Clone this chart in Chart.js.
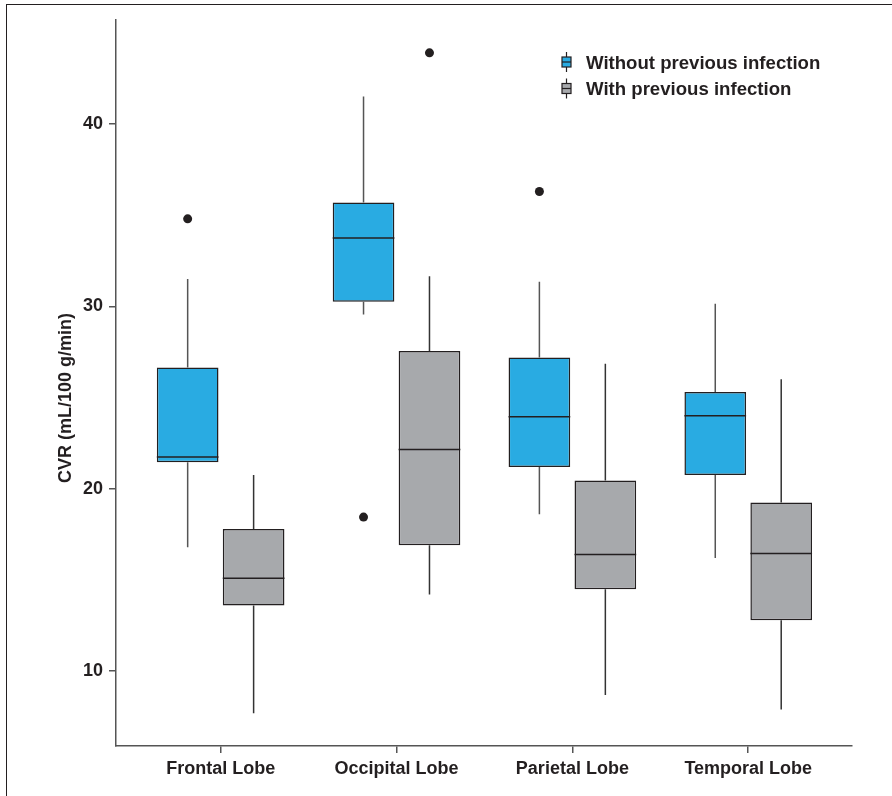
<!DOCTYPE html>
<html>
<head>
<meta charset="utf-8">
<script src="https://cdn.jsdelivr.net/npm/chart.js@4.4.1/dist/chart.umd.min.js"></script>
<style>
  html, body { margin: 0; padding: 0; background: #fff; }
  #wrap { position: relative; width: 892px; height: 796px; }
  #frame { position: absolute; left: 6px; top: 4px; right: 0; bottom: 0;
           border-top: 1.5px solid #231f20; border-left: 1.5px solid #231f20; pointer-events: none; }
</style>
</head>
<body>
<div id="wrap">
  <canvas id="chart" width="892" height="796"></canvas>
  <div id="frame"></div>
</div>
<script>
// categories and tick labels
const lobes = ['Frontal Lobe', 'Occipital Lobe', 'Parietal Lobe', 'Temporal Lobe'];
const yTicks = [10, 20, 30, 40];
const yTitle = 'CVR (mL/100 g/min)';

// without previous infection (blue)
const blueLow    = [16.8, 29.55, 18.6, 16.2];
const blueQ1     = [21.45, 30.25, 21.2, 20.75];
const blueMedian = [21.75, 33.75, 23.95, 24.0];
const blueQ3     = [26.65, 35.7, 27.2, 25.3];
const blueHigh   = [31.5, 41.5, 31.35, 30.15];
const blueOut    = [[34.8], [18.45], [36.3], []];

// with previous infection (gray)
const grayLow    = [7.7, 14.2, 8.7, 7.9];
const grayQ1     = [13.6, 16.9, 14.5, 12.8];
const grayMedian = [15.1, 22.15, 16.4, 16.45];
const grayQ3     = [17.8, 27.55, 20.45, 19.25];
const grayHigh   = [20.75, 31.65, 26.85, 26.0];
const grayOut    = [[], [43.9], [], []];

const groups = [
  { label: 'Without previous infection', color: '#29abe2', whisker: '#555', low: blueLow, q1: blueQ1, med: blueMedian, q3: blueQ3, high: blueHigh, out: blueOut },
  { label: 'With previous infection', color: '#a7a9ac', whisker: '#333', low: grayLow, q1: grayQ1, med: grayMedian, q3: grayQ3, high: grayHigh, out: grayOut }
];

const ink = '#231f20';
const font = { family: "'Liberation Sans', Arial, sans-serif", size: 18, weight: 'bold' };
const fontStr = "bold 18px 'Liberation Sans', Arial, sans-serif";
const legendFont = "bold 18.6px 'Liberation Sans', Arial, sans-serif";

const boxPlugin = {
  id: 'boxes',
  afterDatasetsDraw(chart) {
    const ctx = chart.ctx, y = chart.scales.y;
    groups.forEach((g, i) => {
      chart.getDatasetMeta(i).data.forEach((bar, j) => {
        const x = bar.x, half = bar.width / 2;
        ctx.save();
        ctx.strokeStyle = g.whisker;
        ctx.lineWidth = 1.5;
        ctx.beginPath();
        ctx.moveTo(x, y.getPixelForValue(g.high[j]));
        ctx.lineTo(x, y.getPixelForValue(g.q3[j]));
        ctx.moveTo(x, y.getPixelForValue(g.q1[j]));
        ctx.lineTo(x, y.getPixelForValue(g.low[j]));
        ctx.stroke();
        ctx.strokeStyle = ink;
        ctx.beginPath();
        const ym = y.getPixelForValue(g.med[j]);
        ctx.moveTo(x - half, ym);
        ctx.lineTo(x + half, ym);
        ctx.stroke();
        ctx.fillStyle = ink;
        g.out[j].forEach(v => {
          ctx.beginPath();
          ctx.arc(x, y.getPixelForValue(v), 4.5, 0, Math.PI * 2);
          ctx.fill();
        });
        ctx.restore();
      });
    });
  },
  afterDraw(chart) {
    const ctx = chart.ctx;
    ctx.save();
    // legend
    groups.forEach((g, k) => {
      const cy = 62 + 26.5 * k, cx = 566.5;
      ctx.strokeStyle = ink;
      ctx.lineWidth = 1.2;
      ctx.beginPath();
      ctx.moveTo(cx, cy - 10); ctx.lineTo(cx, cy + 10);
      ctx.stroke();
      ctx.fillStyle = g.color;
      ctx.fillRect(cx - 4.5, cy - 5, 9, 10);
      ctx.strokeRect(cx - 4.5, cy - 5, 9, 10);
      ctx.beginPath();
      ctx.moveTo(cx - 4.5, cy); ctx.lineTo(cx + 4.5, cy);
      ctx.stroke();
      ctx.fillStyle = ink;
      ctx.font = legendFont;
      ctx.textAlign = 'left';
      ctx.textBaseline = 'alphabetic';
      ctx.fillText(g.label, 586, cy + 6.5);
    });
    // y axis title
    ctx.translate(66, 398);
    ctx.rotate(-Math.PI / 2);
    ctx.textAlign = 'center';
    ctx.textBaseline = 'middle';
    ctx.fillStyle = ink;
    ctx.font = fontStr;
    ctx.fillText(yTitle, 0, 0);
    ctx.restore();
  }
};

const axisGrid = { display: true, drawOnChartArea: false, drawTicks: true, tickLength: 7, color: '#555', lineWidth: 1.5, offset: false };
const axisBorder = { display: true, color: '#555', width: 1.5 };

new Chart(document.getElementById('chart').getContext('2d'), {
  type: 'bar',
  data: {
    datasets: groups.map(g => ({
      label: g.label,
      data: lobes.map((_, j) => ({ x: j, y: [g.q1[j], g.q3[j]] })),
      backgroundColor: g.color,
      borderColor: ink,
      borderWidth: 1.5,
      borderSkipped: false,
      categoryPercentage: 0.75,
      barPercentage: 0.935
    }))
  },
  options: {
    responsive: false,
    animation: false,
    layout: { padding: { top: 20, right: 40, left: 0, bottom: 0 } },
    plugins: { legend: { display: false }, tooltip: { enabled: false } },
    scales: {
      x: {
        type: 'linear',
        offset: false,
        min: -0.595,
        max: 3.59,
        afterBuildTicks: s => { s.ticks = lobes.map((_, i) => ({ value: i })); },
        afterFit: s => { s.height = 50; },
        ticks: { callback: v => lobes[v], font: font, color: ink, padding: 5, maxRotation: 0, autoSkip: false },
        grid: axisGrid,
        border: axisBorder
      },
      y: {
        min: 5.9,
        max: 45.7,
        afterBuildTicks: s => { s.ticks = yTicks.map(v => ({ value: v })); },
        afterFit: s => { s.width = 116; },
        ticks: { font: font, color: ink, padding: 6 },
        grid: axisGrid,
        border: axisBorder
      }
    }
  },
  plugins: [boxPlugin]
});
</script>
</body>
</html>
